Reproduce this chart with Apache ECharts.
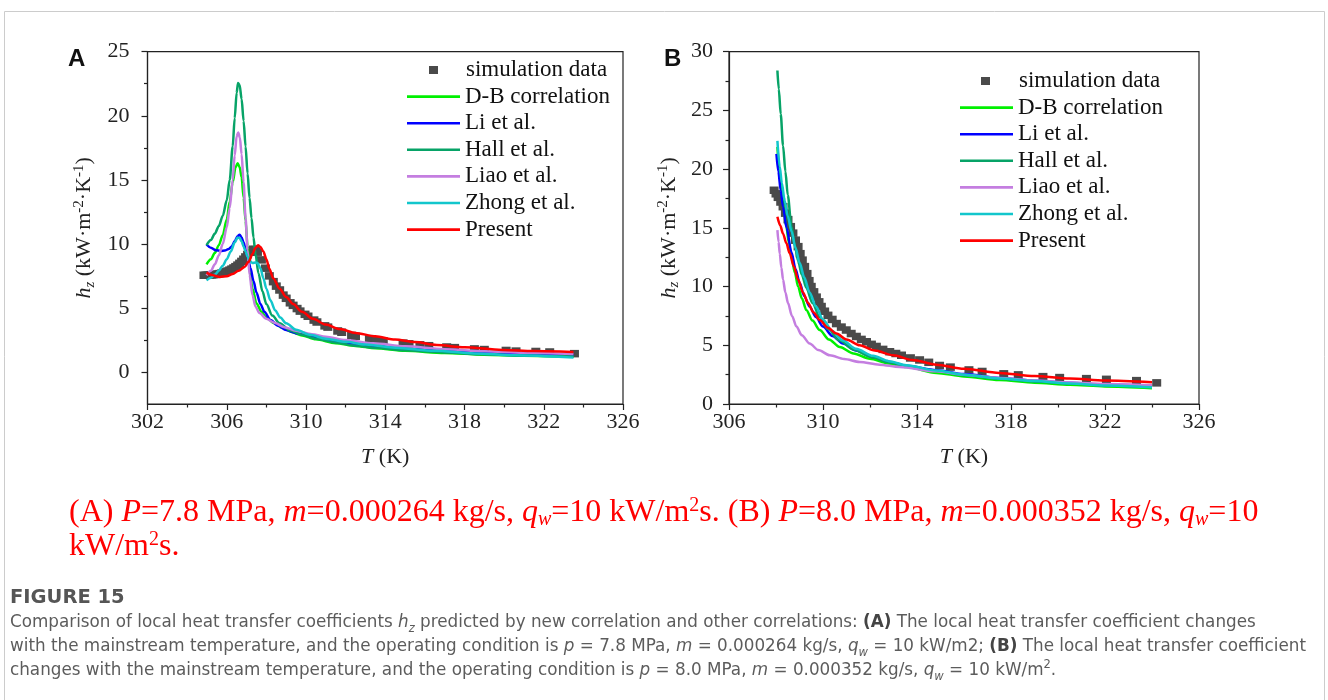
<!DOCTYPE html>
<html><head><meta charset="utf-8">
<script src="https://cdn.jsdelivr.net/npm/echarts@6/dist/echarts.min.js"></script>
<style>html,body{margin:0;padding:0;background:#fff}#c{width:1328px;height:700px}</style>
</head><body><div id="c"></div>
<script>
// ---------- names / colours ----------
const seriesNames = ['simulation data', 'D-B correlation', 'Li et al.', 'Hall et al.', 'Liao et al.', 'Zhong et al.', 'Present'];
const seriesColors = ['#4a4a4a', '#00f000', '#0000ff', '#07a367', '#c47ee0', '#12c6cc', '#ff0000'];

// ---------- tick values ----------
const xTicksA = [302, 306, 310, 314, 318, 322, 326];
const xMinorA = [304, 308, 312, 316, 320, 324];
const yTicksA = [0, 5, 10, 15, 20, 25];
const yMinorA = [2.5, 7.5, 12.5, 17.5, 22.5];
const xTicksB = [306, 310, 314, 318, 322, 326];
const xMinorB = [308, 312, 316, 320, 324];
const yTicksB = [0, 5, 10, 15, 20, 25, 30];
const yMinorB = [2.5, 7.5, 12.5, 17.5, 22.5, 27.5];

// ---------- Panel A data [T (K), h (kW/m2K)] ----------
const simA = [[304.85,7.55],[304.95,7.55],[305.05,7.56],[305.15,7.57],[305.25,7.58],[305.35,7.6],[305.45,7.62],[305.55,7.65],[305.65,7.68],[305.75,7.72],[305.85,7.77],[305.95,7.82],[306.05,7.88],[306.15,7.95],[306.25,8.03],[306.35,8.12],[306.45,8.22],[306.55,8.34],[306.65,8.48],[306.75,8.63],[306.85,8.8],[306.95,8.98],[307.05,9.17],[307.15,9.35],[307.25,9.5],[307.35,9.58],[307.45,9.55],[307.55,9.35],[307.75,8.75],[307.95,8.1],[308.15,7.5],[308.35,7.05],[308.5,6.7],[308.67,6.4],[308.85,6.0],[309.0,5.75],[309.2,5.4],[309.35,5.2],[309.55,4.95],[309.7,4.75],[309.95,4.5],[310.1,4.35],[310.4,4.05],[310.55,3.9],[310.95,3.6],[311.1,3.5],[311.6,3.2],[311.8,3.1],[312.3,2.85],[312.5,2.78],[313.2,2.6],[313.55,2.5],[313.9,2.42],[314.9,2.25],[315.2,2.2],[315.75,2.12],[316.2,2.05],[317.1,1.95],[317.5,1.9],[318.5,1.8],[319.0,1.75],[320.1,1.68],[320.6,1.63],[321.6,1.6],[322.3,1.56],[323.55,1.43]];
const dbA = [[304.98,8.4],[305.2,8.8],[305.4,9.3],[305.6,9.9],[305.8,10.7],[306.0,11.9],[306.15,13.3],[306.3,14.8],[306.45,16.0],[306.55,16.3],[306.65,16.0],[306.75,15.2],[306.85,13.6],[306.95,11.8],[307.05,9.8],[307.15,8.0],[307.3,6.5],[307.5,5.35],[307.75,4.7],[308.0,4.25],[308.4,3.8],[308.8,3.45],[309.3,3.1],[309.8,2.85],[310.5,2.55],[311.5,2.25],[312.5,2.03],[313.5,1.85],[315,1.65],[317,1.48],[319,1.35],[321,1.26],[323.5,1.18]];
const liA = [[304.98,9.95],[305.2,9.7],[305.45,9.5],[305.7,9.45],[305.9,9.48],[306.1,9.6],[306.25,9.8],[306.4,10.2],[306.55,10.6],[306.65,10.72],[306.75,10.5],[306.85,10.1],[306.95,9.6],[307.05,9.0],[307.2,8.1],[307.35,7.1],[307.5,6.2],[307.7,5.3],[307.9,4.7],[308.2,4.05],[308.6,3.6],[309.0,3.28],[309.6,3.0],[310.4,2.72],[311.5,2.42],[312.5,2.2],[313.5,2.02],[315,1.82],[317,1.64],[319,1.5],[321,1.4],[323.5,1.33]];
const hallA = [[304.98,9.9],[305.2,10.3],[305.4,10.8],[305.6,11.4],[305.8,12.2],[306.0,13.4],[306.15,15.0],[306.3,17.6],[306.4,19.8],[306.5,21.8],[306.57,22.55],[306.65,22.4],[306.75,21.3],[306.85,19.6],[306.95,17.6],[307.05,15.5],[307.15,13.6],[307.25,12.0],[307.35,10.5],[307.45,9.2],[307.6,7.7],[307.8,6.3],[308.0,5.3],[308.3,4.4],[308.67,3.8],[309.2,3.25],[309.7,2.95],[310.5,2.6],[311.5,2.3],[312.5,2.05],[313.5,1.9],[315,1.7],[317,1.52],[319,1.38],[321,1.28],[323.5,1.2]];
const liaoA = [[304.98,7.55],[305.2,7.9],[305.4,8.4],[305.6,9.1],[305.8,10.0],[306.0,11.3],[306.15,12.8],[306.3,15.0],[306.4,16.9],[306.5,18.4],[306.58,18.7],[306.66,18.3],[306.75,17.0],[306.85,14.8],[306.95,12.0],[307.05,9.5],[307.15,7.6],[307.3,6.0],[307.45,5.1],[307.65,4.6],[308.0,4.15],[308.4,3.85],[308.9,3.5],[309.5,3.22],[310.3,2.95],[311.0,2.75],[312.0,2.5],[313.4,2.24],[315,2.0],[317,1.78],[319,1.62],[321,1.5],[323.5,1.4]];
const zhongA = [[304.98,7.15],[305.2,7.35],[305.4,7.6],[305.6,7.9],[305.8,8.3],[306.0,8.8],[306.2,9.4],[306.4,10.1],[306.55,10.5],[306.65,10.45],[306.75,10.2],[306.85,9.8],[306.95,9.4],[307.05,9.0],[307.15,8.7],[307.3,8.5],[307.45,8.55],[307.55,8.5],[307.7,8.1],[307.85,7.3],[308.0,6.5],[308.2,5.6],[308.45,4.8],[308.7,4.25],[309.0,3.8],[309.5,3.3],[310.2,2.9],[311.0,2.6],[312.0,2.35],[313.0,2.15],[314.5,1.9],[316.5,1.65],[318.5,1.45],[320.5,1.3],[323.5,1.12]];
const presA = [[304.98,7.75],[305.3,7.55],[305.65,7.42],[306.0,7.48],[306.3,7.65],[306.6,7.9],[306.9,8.2],[307.1,8.6],[307.3,9.2],[307.45,9.7],[307.58,9.9],[307.7,9.75],[307.85,9.4],[308.0,8.8],[308.15,8.05],[308.35,7.3],[308.67,6.5],[309.0,5.85],[309.35,5.3],[309.8,4.7],[310.35,4.15],[311.0,3.7],[311.7,3.35],[312.5,3.05],[313.5,2.78],[314.5,2.53],[315.5,2.33],[316.6,2.1],[318,1.93],[319.9,1.72],[321.5,1.63],[323.5,1.56]];

// ---------- Panel B data ----------
const simB = [[307.92,18.2],[308.0,17.9],[308.09,17.6],[308.2,17.2],[308.3,16.8],[308.4,16.25],[308.51,15.7],[308.62,15.1],[308.72,14.55],[308.83,13.95],[308.94,13.4],[309.03,12.8],[309.12,12.25],[309.22,11.7],[309.32,11.1],[309.41,10.5],[309.5,10.0],[309.61,9.55],[309.72,9.1],[309.83,8.7],[309.93,8.3],[310.07,7.9],[310.21,7.55],[310.39,7.2],[310.57,6.85],[310.78,6.55],[310.99,6.3],[311.2,6.0],[311.42,5.75],[311.63,5.5],[311.85,5.3],[312.06,5.08],[312.27,4.9],[312.55,4.65],[312.84,4.45],[313.1,4.3],[313.34,4.15],[313.72,3.92],[314.11,3.75],[314.5,3.55],[314.96,3.28],[315.42,3.14],[316.21,2.9],[316.77,2.77],[317.69,2.57],[318.31,2.48],[319.36,2.33],[320.07,2.25],[321.21,2.16],[322.06,2.1],[323.34,1.99],[324.2,1.8]];
const dbB = [[308.06,21.9],[308.14,20.0],[308.23,18.4],[308.33,16.7],[308.44,15.1],[308.55,13.7],[308.66,12.5],[308.8,11.2],[308.94,10.0],[309.1,9.0],[309.29,8.0],[309.55,7.1],[309.86,6.3],[310.25,5.5],[310.71,4.85],[311.3,4.3],[311.99,3.85],[312.8,3.45],[313.55,3.15],[314.83,2.65],[316,2.35],[317.5,2.05],[319,1.82],[320.5,1.63],[322,1.5],[324,1.35]];
const liB = [[308.02,21.3],[308.1,19.8],[308.2,18.2],[308.3,16.8],[308.45,15.0],[308.66,12.9],[308.83,11.5],[309.01,10.3],[309.2,9.2],[309.43,8.3],[309.7,7.4],[310.0,6.6],[310.4,5.8],[310.85,5.15],[311.4,4.55],[312.13,4.0],[312.8,3.6],[313.55,3.25],[314.83,2.88],[316,2.55],[317.5,2.22],[319,1.98],[320.5,1.8],[322,1.65],[324,1.52]];
const hallB = [[308.06,28.4],[308.12,26.8],[308.2,24.7],[308.3,22.0],[308.4,19.8],[308.5,17.8],[308.66,15.1],[308.8,13.5],[308.94,12.2],[309.1,11.0],[309.29,9.9],[309.55,8.6],[309.86,7.4],[310.2,6.4],[310.71,5.4],[311.3,4.65],[311.99,4.05],[312.8,3.55],[313.55,3.2],[314.83,2.78],[316,2.45],[317.5,2.15],[319,1.92],[320.5,1.75],[322,1.6],[324,1.45]];
const liaoB = [[308.06,14.8],[308.11,13.8],[308.16,12.8],[308.23,11.6],[308.3,10.6],[308.4,9.5],[308.51,8.6],[308.68,7.5],[308.87,6.6],[309.1,5.85],[309.43,5.15],[309.8,4.6],[310.29,4.15],[310.9,3.83],[311.56,3.58],[312.4,3.35],[313.26,3.15],[314.83,2.78],[316,2.5],[317.5,2.22],[319,2.0],[320.5,1.83],[322,1.7],[324,1.6]];
const zhongB = [[308.06,22.4],[308.16,20.2],[308.25,18.8],[308.37,17.3],[308.5,16.0],[308.66,14.7],[308.83,13.3],[309.01,12.0],[309.2,10.8],[309.43,9.5],[309.7,8.3],[310.0,7.2],[310.4,6.2],[310.85,5.4],[311.4,4.7],[312.13,4.1],[312.8,3.65],[313.55,3.3],[314.83,2.85],[316,2.5],[317.5,2.18],[319,1.95],[320.5,1.75],[322,1.58],[324,1.42]];
const presB = [[308.06,15.95],[308.18,15.2],[308.3,14.5],[308.44,13.7],[308.58,12.85],[308.76,11.7],[308.94,10.6],[309.15,9.5],[309.36,8.6],[309.6,7.8],[309.86,7.15],[310.2,6.5],[310.57,6.0],[311.0,5.5],[311.56,5.0],[312.2,4.55],[312.98,4.15],[313.8,3.75],[314.83,3.35],[316,3.0],[317.5,2.65],[319,2.38],[320.5,2.17],[322,2.0],[324,1.85]];

// ---------- texts ----------
const panelLabels = ['A', 'B'];
const xTitle = '{i|T} (K)';
const yTitle = '{i|h}{sb|z} (kW·m{sp|-2}·K{sp|-1})';
const redCaption = '(A) {i|P}=7.8 MPa, {i|m}=0.000264 kg/s, {i|q}{sb|w}=10 kW/m{sp|2}s. (B) {i|P}=8.0 MPa, {i|m}=0.000352 kg/s, {i|q}{sb|w}=10\nkW/m{sp|2}s.';
const figLabel = 'FIGURE 15';
const grayCaption = 'Comparison of local heat transfer coefficients {i|h}{sbi|z} predicted by new correlation and other correlations: {b|(A)} The local heat transfer coefficient changes\n' +
  'with the mainstream temperature, and the operating condition is {i|p} = 7.8 MPa, {i|m} = 0.000264 kg/s, {i|q}{sbi|w} = 10 kW/m2; {b|(B)} The local heat transfer coefficient\n' +
  'changes with the mainstream temperature, and the operating condition is {i|p} = 8.0 MPa, {i|m} = 0.000352 kg/s, {i|q}{sbi|w} = 10 kW/m{sp|2}.';

// ---------- build ----------
const SERIF = "'Liberation Serif', 'Times New Roman', serif";
const SANS = "'DejaVu Sans', 'Open Sans', sans-serif";
const AX = '#222';
const FS = 22;
const LFS = 23;
const CAP = '#5c5c5c';
const CFS = 16.8;

const chart = echarts.init(document.getElementById('c'), null, {renderer: 'canvas'});

function mainX(grid, min, max, ticks) {
  return {
    type: 'value', gridIndex: grid, min: min, max: max, position: 'bottom',
    axisLine: {show: true, onZero: false, lineStyle: {color: AX, width: 1.2}},
    axisTick: {show: true, customValues: ticks, length: 6, lineStyle: {color: AX, width: 1.2}},
    axisLabel: {show: true, customValues: ticks, fontFamily: SERIF, fontSize: FS, color: AX, margin: 7},
    splitLine: {show: false},
    name: xTitle, nameLocation: 'middle', nameGap: 42,
    nameTextStyle: {fontFamily: SERIF, fontSize: FS, color: AX, rich: {i: {fontFamily: SERIF, fontSize: FS, fontStyle: 'italic', color: AX}}}
  };
}
function minorX(grid, min, max, ticks) {
  return {
    type: 'value', gridIndex: grid, min: min, max: max, position: 'bottom',
    axisLine: {show: false, onZero: false},
    axisTick: {show: true, customValues: ticks, length: 3.5, lineStyle: {color: AX, width: 1.2}},
    axisLabel: {show: false}, splitLine: {show: false}
  };
}
function mainY(grid, min, max, ticks, gap, margin) {
  return {
    type: 'value', gridIndex: grid, min: min, max: max, position: 'left',
    axisLine: {show: true, onZero: false, lineStyle: {color: AX, width: 1.2}},
    axisTick: {show: true, customValues: ticks, length: 6, lineStyle: {color: AX, width: 1.2}},
    axisLabel: {show: true, customValues: ticks, fontFamily: SERIF, fontSize: FS, color: AX, margin: margin},
    splitLine: {show: false},
    name: yTitle, nameLocation: 'middle', nameGap: gap,
    nameTextStyle: {fontFamily: SERIF, fontSize: FS, color: AX, lineHeight: 26, rich: {
      i: {fontFamily: SERIF, fontSize: FS, fontStyle: 'italic', color: AX, lineHeight: 26},
      sb: {fontFamily: SERIF, fontSize: 15, fontStyle: 'italic', color: AX, lineHeight: 14, verticalAlign: 'bottom'},
      sp: {fontFamily: SERIF, fontSize: 15, color: AX, lineHeight: 14, verticalAlign: 'top'}
    }}
  };
}
function minorY(grid, min, max, ticks) {
  return {
    type: 'value', gridIndex: grid, min: min, max: max, position: 'left',
    axisLine: {show: false, onZero: false},
    axisTick: {show: true, customValues: ticks, length: 3.5, lineStyle: {color: AX, width: 1.2}},
    axisLabel: {show: false}, splitLine: {show: false}
  };
}

const dataA = [simA, dbA, liA, hallA, liaoA, zhongA, presA];
const dataB = [simB, dbB, liB, hallB, liaoB, zhongB, presB];

function makeSeries(data, axisX, axisY) {
  return data.map((d, k) => k === 0 ? {
    name: seriesNames[k], type: 'scatter', xAxisIndex: axisX, yAxisIndex: axisY,
    data: d, symbol: 'rect', symbolSize: [9, 7.5], itemStyle: {color: seriesColors[k], opacity: 1}, z: 2
  } : {
    name: seriesNames[k], type: 'line', xAxisIndex: axisX, yAxisIndex: axisY,
    data: d, symbol: 'none', showSymbol: false, smooth: 0.3, smoothMonotone: 'x',
    lineStyle: {color: seriesColors[k], width: 2.5}, itemStyle: {color: seriesColors[k]}, z: 3
  });
}

function legends(scatLeft, lineLeft, top0, rowH) {
  const ts = {fontFamily: SERIF, fontSize: LFS, color: '#111', lineHeight: 26};
  return [
    {show: true, orient: 'vertical', left: scatLeft, top: top0, padding: 0, itemGap: rowH - 26,
     itemWidth: 9, itemHeight: 8, icon: 'rect', data: [seriesNames[0]], selectedMode: false,
     textStyle: Object.assign({}, ts, {padding: [0, 0, 0, lineLeft + 59 - scatLeft - 14]})},
    {show: true, orient: 'vertical', left: lineLeft, top: top0 + rowH, padding: 0, itemGap: rowH - 26,
     itemWidth: 53, itemHeight: 2.6, icon: 'rect', data: seriesNames.slice(1), selectedMode: false, textStyle: ts}
  ];
}

const option = {
  animation: false,
  backgroundColor: '#fff',
  title: [
    {text: panelLabels[0], left: 68, top: 47, padding: 0, textStyle: {fontFamily: "'Liberation Sans', Arial, sans-serif", fontWeight: 'bold', fontSize: 24, color: '#111'}},
    {text: panelLabels[1], left: 664, top: 47, padding: 0, textStyle: {fontFamily: "'Liberation Sans', Arial, sans-serif", fontWeight: 'bold', fontSize: 24, color: '#111'}},
    {text: redCaption, left: 69, top: 496, padding: 0, textStyle: {fontFamily: SERIF, fontSize: 32, color: '#ff0000', lineHeight: 34, fontWeight: 'normal', rich: {
      i: {fontFamily: SERIF, fontSize: 32, fontStyle: 'italic', color: '#ff0000', lineHeight: 34},
      sb: {fontFamily: SERIF, fontSize: 20, fontStyle: 'italic', color: '#ff0000', lineHeight: 20, verticalAlign: 'bottom'},
      sp: {fontFamily: SERIF, fontSize: 20, color: '#ff0000', lineHeight: 20, verticalAlign: 'top'}
    }}},
    {text: figLabel, left: 10, top: 588, padding: 0, textStyle: {fontFamily: SANS, fontSize: 19.5, fontWeight: 'bold', color: '#555'}},
    {text: grayCaption, left: 10, top: 611, padding: 0, textStyle: {fontFamily: SANS, fontSize: CFS, color: CAP, lineHeight: 24, fontWeight: 'normal', rich: {
      i: {fontFamily: SANS, fontSize: CFS, fontStyle: 'italic', color: CAP, lineHeight: 24},
      b: {fontFamily: SANS, fontSize: CFS, fontWeight: 'bold', color: '#444', lineHeight: 24},
      sbi: {fontFamily: SANS, fontSize: 11.5, fontStyle: 'italic', color: CAP, lineHeight: 14, verticalAlign: 'bottom'},
      sp: {fontFamily: SANS, fontSize: 11.5, color: CAP, lineHeight: 14, verticalAlign: 'top'}
    }}}
  ],
  legend: legends(429, 407, 57, 26.6).concat(legends(981, 960, 68, 26.6)),
  grid: [
    {left: 147.5, top: 51.7, width: 475.5, height: 352.3, show: true, borderColor: AX, borderWidth: 1.2, backgroundColor: 'transparent', containLabel: false, outerBoundsMode: 'none'},
    {left: 729, top: 51.7, width: 470, height: 352.3, show: true, borderColor: AX, borderWidth: 1.2, backgroundColor: 'transparent', containLabel: false, outerBoundsMode: 'none'}
  ],
  xAxis: [
    mainX(0, 302, 326, xTicksA), minorX(0, 302, 326, xMinorA),
    mainX(1, 306, 326, xTicksB), minorX(1, 306, 326, xMinorB)
  ],
  yAxis: [
    mainY(0, -2.5, 25, yTicksA, 50, 18), minorY(0, -2.5, 25, yMinorA),
    mainY(1, 0, 30, yTicksB, 47, 16), minorY(1, 0, 30, yMinorB)
  ],
  graphic: [
    {type: 'rect', silent: true, z: -10, shape: {x: 4.5, y: 11.5, width: 1320, height: 720}, style: {fill: 'none', stroke: '#cccccc', lineWidth: 1}}
  ],
  series: makeSeries(dataA, 0, 0).concat(makeSeries(dataB, 2, 2))
};
chart.setOption(option);
</script>
</body></html>
